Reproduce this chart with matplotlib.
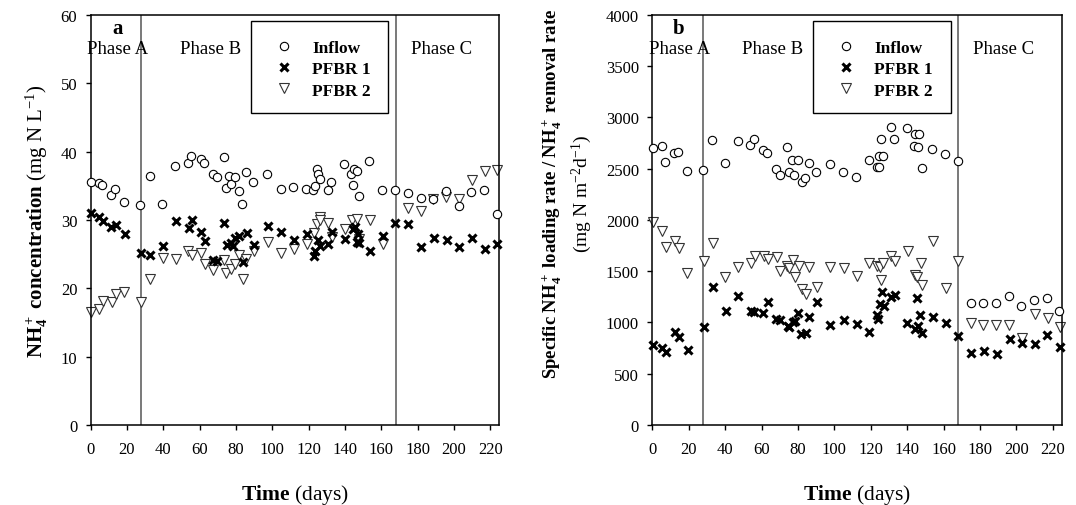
import matplotlib
matplotlib.use("Agg")
import matplotlib.pyplot as plt
from matplotlib.patches import Rectangle

plt.rcParams['font.family'] = ['Liberation Serif', 'DejaVu Serif']
plt.rcParams['mathtext.fontset'] = 'custom'
plt.rcParams['mathtext.rm'] = 'Liberation Serif'
plt.rcParams['mathtext.it'] = 'Liberation Serif:italic'
plt.rcParams['mathtext.bf'] = 'Liberation Serif:bold'

# ---- panel a: NH4+ concentration (mg N/L) ----
inflow_day_a = [0, 4.6, 6.5, 11.4, 13.4, 18.6, 27.4, 32.5, 39.5, 46.5, 53.4, 55.4, 60.6, 62.4,
                67.5, 69.4, 73.6, 74.5, 76.3, 77.4, 79.7, 81.5, 83.3, 85.5, 89.4, 97.3, 104.6,
                111.4, 118.4, 122.6, 123.7, 124.6, 125.3, 126.4, 130.7, 132.5, 139.5, 143.5,
                144.6, 145.1, 146.5, 147.6, 153.4, 160.5, 167.5, 174.5, 181.7, 188.4, 195.6,
                202.6, 209.5, 216.7, 223.7]
inflow_conc = [35.5, 35.4, 35.1, 33.6, 34.6, 32.7, 32.2, 36.5, 32.3, 37.9, 38.4, 39.3, 38.9, 38.4,
               36.7, 36.3, 39.2, 34.7, 36.4, 35.3, 36.3, 34.2, 32.3, 37.0, 35.6, 36.8, 34.6,
               34.9, 34.5, 34.4, 35.0, 37.4, 36.8, 36.0, 34.4, 35.5, 38.2, 36.8,
               35.1, 37.4, 37.1, 33.5, 38.6, 34.4, 34.4, 34.0, 33.2, 33.0, 34.2,
               32.0, 34.1, 34.4, 30.9]

pfbr1_day_a = [0, 4.6, 7.0, 11.4, 13.8, 19.1, 27.6, 32.7, 39.7, 46.8, 54.0, 56.0, 60.9, 62.8,
               67.5, 69.4, 73.6, 74.9, 77.1, 78.2, 79.6, 81.5, 84.1, 85.9, 89.9, 97.5, 104.8,
               111.8, 118.9, 122.9, 123.7, 125.3, 126.3, 130.8, 133.0, 139.8, 144.6, 145.5,
               146.5, 147.2, 147.9, 153.8, 160.9, 167.7, 174.8, 182.0, 188.8, 196.0, 202.7,
               209.9, 217.1, 223.8]
pfbr1_conc = [31.0, 30.4, 29.8, 29.0, 29.3, 28.0, 25.2, 24.9, 26.2, 29.8, 28.9, 30.0, 28.3, 26.9,
              24.2, 24.0, 29.6, 26.4, 26.7, 26.2, 27.4, 27.7, 23.8, 28.1, 26.4, 29.1, 28.3,
              27.1, 28.0, 24.8, 25.5, 27.1, 26.2, 26.5, 28.3, 27.2, 28.7, 29.0,
              26.8, 28.0, 26.6, 25.5, 27.7, 29.6, 29.4, 26.1, 27.4, 27.1, 26.0,
              27.4, 25.7, 26.5]

pfbr2_day_a = [0, 4.6, 6.6, 11.6, 13.8, 18.6, 27.6, 32.7, 39.7, 46.8, 53.6, 56.0, 60.6, 62.8,
               67.5, 73.4, 74.5, 77.1, 79.3, 81.8, 83.7, 85.5, 89.9, 97.7, 104.8, 111.8, 118.9,
               122.9, 124.8, 126.3, 126.4, 130.8, 133.0, 139.8, 143.7, 146.8, 147.6, 153.8,
               160.9, 174.7, 181.7, 188.6, 195.6, 202.7, 209.9, 217.1, 223.8]
pfbr2_conc = [16.6, 17.0, 18.2, 18.0, 19.2, 19.5, 18.0, 21.3, 24.4, 24.3, 25.4, 24.9, 25.1, 23.6,
              22.7, 24.1, 22.2, 22.9, 23.6, 24.9, 21.4, 24.3, 25.5, 26.8, 25.1, 25.7, 26.5,
              28.1, 29.4, 30.5, 30.0, 29.6, 27.5, 28.7, 30.0, 30.2, 27.2, 30.0,
              26.5, 31.8, 31.3, 33.1, 33.3, 33.1, 35.9, 37.1, 37.3]

# ---- panel b: loading / removal rate (mg N m-2 d-1) ----
inflow_day_b = [0.2, 5.2, 7.0, 12.1, 13.9, 19.2, 28.0, 33.0, 39.9, 46.9, 53.8, 56.0, 61.0, 62.8,
                67.9, 70.1, 74.0, 75.1, 76.9, 77.8, 80.0, 82.0, 84.0, 86.0, 89.9, 97.7, 104.9,
                111.9, 118.8, 123.2, 124.3, 124.6, 125.8, 126.7, 130.9, 132.7, 139.7, 143.7,
                144.4, 146.0, 146.6, 147.9, 153.8, 160.7, 168.0, 174.8, 181.8, 188.6, 195.7,
                202.7, 209.6, 216.6, 223.5]
inflow_rate = [2705, 2725, 2569, 2651, 2667, 2481, 2485, 2777, 2553, 2768, 2735, 2790, 2686, 2654,
               2498, 2442, 2712, 2472, 2588, 2442, 2585, 2371, 2413, 2559, 2468, 2550, 2465,
               2417, 2585, 2520, 2520, 2624, 2793, 2627, 2904, 2793, 2897, 2722,
               2842, 2712, 2842, 2510, 2690, 2647, 2579, 1193, 1193, 1187, 1262,
               1158, 1223, 1236, 1109]

pfbr1_day_b = [0.2, 5.5, 7.5, 12.6, 14.5, 19.6, 28.2, 33.5, 40.3, 47.2, 54.0, 55.8, 61.0, 63.4,
               67.9, 70.1, 74.4, 75.2, 77.1, 78.4, 80.2, 81.8, 84.2, 86.2, 90.3, 97.6, 105.3,
               112.3, 119.2, 123.2, 124.1, 125.1, 126.0, 127.3, 131.2, 133.3, 140.0, 144.1,
               145.2, 146.0, 147.2, 148.1, 154.3, 161.1, 168.0, 175.0, 182.0, 189.1, 196.3,
               203.0, 210.1, 216.9, 223.9]
pfbr1_rate = [784, 748, 715, 910, 862, 735, 959, 1349, 1109, 1262, 1109, 1102, 1093, 1197,
              1034, 1024, 969, 956, 1008, 1018, 1090, 885, 900, 1054, 1197, 976, 1024,
              988, 907, 1076, 1037, 1180, 1294, 1164, 1252, 1268, 995, 937,
              1236, 969, 1073, 895, 1051, 995, 868, 702, 719, 696, 839,
              803, 790, 881, 761]

pfbr2_day_b = [0.2, 5.5, 7.4, 12.3, 14.5, 19.2, 28.2, 33.5, 40.1, 47.1, 54.2, 56.2, 61.2, 63.4,
               68.3, 70.3, 74.2, 74.9, 77.1, 78.4, 80.4, 82.2, 84.2, 86.2, 90.3, 97.6, 105.3,
               112.3, 119.2, 123.6, 125.1, 126.9, 125.4, 131.2, 133.3, 140.2, 144.1, 145.2,
               147.4, 148.1, 154.3, 161.1, 168.0, 175.0, 181.8, 188.7, 195.9, 202.9, 210.0,
               217.1, 223.9]
pfbr2_rate = [1977, 1893, 1734, 1795, 1724, 1483, 1597, 1773, 1441, 1538, 1580, 1652, 1652, 1619,
              1636, 1506, 1548, 1529, 1613, 1441, 1554, 1327, 1278, 1538, 1343, 1545, 1532,
              1457, 1577, 1554, 1545, 1577, 1418, 1646, 1600, 1701, 1463, 1441,
              1580, 1366, 1798, 1337, 1600, 995, 976, 976, 979, 852, 1080,
              1044, 959]

phase_bounds = [28, 168]
phase_names = ['Phase A', 'Phase B', 'Phase C']
phase_text_x = [15, 66, 193]
series_names = ['Inflow', 'PFBR 1', 'PFBR 2']
xticks = list(range(0, 221, 20))


def draw_panel(ax, data, ymax, ystep, letter):
    ax.set_xlim(0, 225)
    ax.set_ylim(0, ymax)
    for b in phase_bounds:
        ax.axvline(b, color='#555555', lw=1.1, zorder=1)
    (d0, v0), (d1, v1), (d2, v2) = data
    ax.plot(d0, v0, 'o', ms=6, mfc='white', mec='black', mew=0.8, ls='none',
            label=series_names[0], zorder=3, clip_on=False)
    ax.plot(d1, v1, 'x', ms=6, mec='black', mew=2.2, ls='none',
            label=series_names[1], zorder=4, clip_on=False)
    ax.plot(d2, v2, 'v', ms=7, mfc='white', mec='#333333', mew=0.8, ls='none',
            label=series_names[2], zorder=2, clip_on=False)
    ax.set_xticks(xticks)
    ax.set_yticks(range(0, ymax + 1, ystep))
    ax.tick_params(direction='out', length=3.6, width=1, labelsize=12, pad=6)
    ax.tick_params(axis='x', pad=8)
    for s in ax.spines.values():
        s.set_linewidth(1.1)
    for name, tx in zip(phase_names, phase_text_x):
        ax.text(tx, 0.918 * ymax, name, ha='center', va='center', fontsize=13.5)
    ax.text(0.065, 0.968, letter, transform=ax.transAxes, ha='center', va='center',
            fontsize=15, fontweight='bold')
    ax.add_patch(Rectangle((0.392, 0.760), 0.336, 0.226, transform=ax.transAxes,
                           fill=False, ec='black', lw=1, zorder=5))
    leg = ax.legend(loc='upper left', bbox_to_anchor=(0.41, 0.978), frameon=False,
                    handlelength=1.2, handletextpad=1.0, labelspacing=0.3,
                    prop={'weight': 'bold', 'size': 12.5})
    leg.set_zorder(6)
    ax.set_xlabel(r'$\mathbf{Time}$ (days)', fontsize=15.5, labelpad=18)


fig = plt.figure(figsize=(10.76, 5.06), dpi=100)
ax1 = fig.add_axes([0.0842, 0.1581, 0.3798, 0.8103])
ax2 = fig.add_axes([0.6062, 0.1581, 0.3808, 0.8103])

draw_panel(ax1, [(inflow_day_a, inflow_conc), (pfbr1_day_a, pfbr1_conc),
                 (pfbr2_day_a, pfbr2_conc)], 60, 10, 'a')
draw_panel(ax2, [(inflow_day_b, inflow_rate), (pfbr1_day_b, pfbr1_rate),
                 (pfbr2_day_b, pfbr2_rate)], 4000, 500, 'b')

ax1.set_ylabel(r'$\mathbf{NH_4^+\ concentration}$ (mg N L$^{-1}$)', fontsize=15, labelpad=8)

fig.text(0.513, 0.617,
         r'$\mathbf{Specific\ NH_4^+\ loading\ rate\ /\ NH_4^+\ removal\ rate}$',
         rotation=90, ha='center', va='center', fontsize=13.5)
fig.text(0.541, 0.617, r'(mg N m$^{-2}$d$^{-1}$)', rotation=90,
         ha='center', va='center', fontsize=14)

fig.savefig('out.png', dpi=100)
